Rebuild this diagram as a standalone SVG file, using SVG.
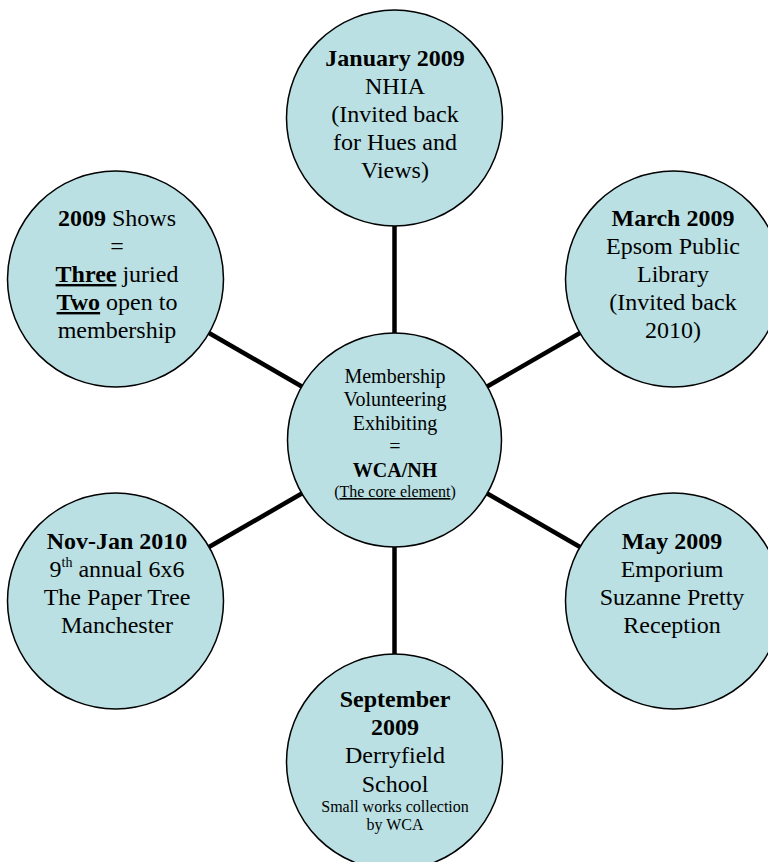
<svg xmlns="http://www.w3.org/2000/svg" width="768" height="862" viewBox="0 0 768 862">
<style>
.node circle{fill:#BAE0E3;stroke:#000;stroke-width:1.5}
text{font-family:"Liberation Serif","Times New Roman",serif;fill:#000;text-anchor:middle;font-size:24px}
.b{font-weight:bold}
.u{text-decoration:underline}
.c{font-size:20px}
.s{font-size:16px}
.sup{font-size:14px}
#connectors line{stroke:#000;stroke-width:4.5}
</style>
<rect width="768" height="862" fill="#fff"/>
<g id="connectors">
<line x1="394.5" y1="226" x2="394.5" y2="333"/>
<line x1="394.5" y1="547" x2="394.5" y2="654"/>
<line x1="209" y1="333" x2="301.8" y2="386.5"/>
<line x1="580" y1="333" x2="487.2" y2="386.5"/>
<line x1="209" y1="547" x2="301.8" y2="493.5"/>
<line x1="580" y1="547" x2="487.2" y2="493.5"/>
</g>
<g id="center" class="node">
<circle cx="394.5" cy="440" r="107"/>
<text class="c" x="395" y="383">Membership</text>
<text class="c" x="395" y="406">Volunteering</text>
<text class="c" x="395" y="430">Exhibiting</text>
<text class="c" x="395" y="453">=</text>
<text class="c b" x="395" y="477">WCA/NH</text>
<text class="s" x="395" y="497">(<tspan class="u">The core element</tspan>)</text>
</g>
<g id="top" class="node">
<circle cx="394.5" cy="118" r="108"/>
<text class="b" x="395" y="66">January 2009</text>
<text x="395" y="94">NHIA</text>
<text x="395" y="122">(Invited back</text>
<text x="395" y="150">for Hues and</text>
<text x="395" y="178">Views)</text>
</g>
<g id="leftTop" class="node">
<circle cx="115.5" cy="279" r="108"/>
<text x="117" y="226"><tspan class="b">2009</tspan> Shows</text>
<text x="117" y="254">=</text>
<text x="117" y="282"><tspan class="b u">Three</tspan> juried</text>
<text x="117" y="310"><tspan class="b u">Two</tspan> open to</text>
<text x="117" y="338">membership</text>
</g>
<g id="rightTop" class="node">
<circle cx="673.5" cy="279" r="108"/>
<text class="b" x="673" y="226">March 2009</text>
<text x="673" y="254">Epsom Public</text>
<text x="673" y="282">Library</text>
<text x="673" y="310">(Invited back</text>
<text x="673" y="338">2010)</text>
</g>
<g id="leftBottom" class="node">
<circle cx="115.5" cy="601" r="108"/>
<text class="b" x="117" y="549">Nov-Jan 2010</text>
<text x="117" y="577">9<tspan class="sup" dy="-10">th</tspan><tspan dy="10"> annual 6x6</tspan></text>
<text x="117" y="605">The Paper Tree</text>
<text x="117" y="633">Manchester</text>
</g>
<g id="rightBottom" class="node">
<circle cx="673.5" cy="601" r="108"/>
<text class="b" x="672" y="549">May 2009</text>
<text x="672" y="577">Emporium</text>
<text x="672" y="605">Suzanne Pretty</text>
<text x="672" y="633">Reception</text>
</g>
<g id="bottom" class="node">
<circle cx="394.5" cy="762" r="108"/>
<text class="b" x="395" y="707">September</text>
<text class="b" x="395" y="735">2009</text>
<text x="395" y="763">Derryfield</text>
<text x="395" y="792">School</text>
<text class="s" x="395" y="812">Small works collection</text>
<text class="s" x="395" y="830">by WCA</text>
</g>
</svg>
